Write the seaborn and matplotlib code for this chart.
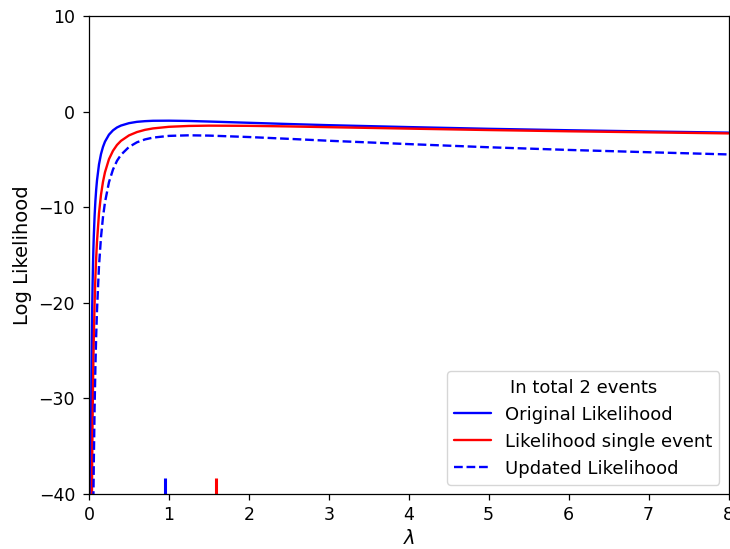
import matplotlib
matplotlib.use("Agg")
import matplotlib.pyplot as plt
import seaborn as sns
import pandas as pd

# Rate values on the horizontal axis
lam = [0.01, 0.015, 0.02, 0.025, 0.03, 0.035, 0.04, 0.045, 0.05, 0.055,
       0.06, 0.07, 0.08, 0.09, 0.1, 0.125, 0.15, 0.175, 0.2, 0.25,
       0.3, 0.35, 0.4, 0.5, 0.6, 0.7, 0.8, 1.0, 1.25, 1.5,
       2, 2.5, 3, 4, 5, 6, 7, 8]

# Log likelihood of the first observation
original_ll = [-90.39, -59.13, -43.59, -34.31, -28.16, -23.79, -20.53, -18.01, -16.00, -14.37,
               -13.02, -10.91, -9.35, -8.15, -7.20, -5.52, -4.44, -3.69, -3.14, -2.41,
               -1.96, -1.66, -1.46, -1.21, -1.07, -1.00, -0.96, -0.95, -0.98, -1.04,
               -1.17, -1.30, -1.42, -1.62, -1.80, -1.95, -2.08, -2.20]

# Log likelihood of the new single event
single_ll = [-154.39, -101.80, -75.59, -59.91, -49.49, -42.08, -36.53, -32.23, -28.80, -26.01,
             -23.69, -20.06, -17.35, -15.26, -13.60, -10.64, -8.70, -7.34, -6.34, -4.97,
             -4.10, -3.49, -3.06, -2.49, -2.14, -1.91, -1.76, -1.59, -1.50, -1.47,
             -1.49, -1.55, -1.63, -1.78, -1.93, -2.06, -2.17, -2.28]

# Combined log likelihood after both events
updated_ll = [-244.78, -160.93, -119.18, -94.22, -77.65, -65.87, -57.06, -50.24, -44.80, -40.38,
              -36.71, -30.97, -26.70, -23.41, -20.80, -16.16, -13.14, -11.03, -9.48, -7.38,
              -6.06, -5.15, -4.52, -3.70, -3.21, -2.91, -2.72, -2.54, -2.48, -2.51,
              -2.66, -2.85, -3.05, -3.40, -3.73, -4.01, -4.25, -4.48]

# Observed event values marked along the bottom
event_values = [0.95, 1.59]
event_colors = ["blue", "red"]

sns.set_style("ticks", {"axes.edgecolor": "black", "xtick.color": "black",
                        "ytick.color": "black", "axes.labelcolor": "black",
                        "text.color": "black"})
plt.rcParams["font.family"] = ["DejaVu Sans"]
plt.rcParams["font.size"] = 12.5
plt.rcParams["axes.linewidth"] = 0.9
plt.rcParams["xtick.major.size"] = 4
plt.rcParams["ytick.major.size"] = 4
plt.rcParams["xtick.major.width"] = 0.9
plt.rcParams["ytick.major.width"] = 0.9
plt.rcParams["xtick.major.pad"] = 4.5
plt.rcParams["ytick.major.pad"] = 6

df = pd.DataFrame({"lam": lam, "orig": original_ll, "single": single_ll, "upd": updated_ll})

fig = plt.figure(figsize=(7.3, 5.49), dpi=100)
ax = fig.add_axes([89 / 730, 1 - 494 / 549, (728.5 - 89) / 730, (494 - 16) / 549])

sns.lineplot(data=df, x="lam", y="orig", ax=ax, color="blue", lw=1.7,
             label="Original Likelihood", sort=False)
sns.lineplot(data=df, x="lam", y="single", ax=ax, color="red", lw=1.7,
             label="Likelihood single event", sort=False)
sns.lineplot(data=df, x="lam", y="upd", ax=ax, color="blue", lw=1.7,
             linestyle="--", label="Updated Likelihood", sort=False)

for v, c in zip(event_values, event_colors):
    sns.rugplot(x=[v], ax=ax, color=c, height=0.034, linewidth=2.2)

ax.set_xlim(0, 8)
ax.set_ylim(-40, 10)
ax.set_xticks(range(0, 9))
ax.set_yticks([-40, -30, -20, -10, 0, 10])
ax.tick_params(labelsize=12.5)
ax.set_xlabel(r"$\lambda$", fontsize=14)
ax.set_ylabel("Log Likelihood", fontsize=14, labelpad=5)

leg = ax.legend(title="In total 2 events", loc="lower right", fontsize=13,
                title_fontsize=13, frameon=True)
leg.get_frame().set_edgecolor("#cccccc")

fig.savefig("out.png", dpi=100)
